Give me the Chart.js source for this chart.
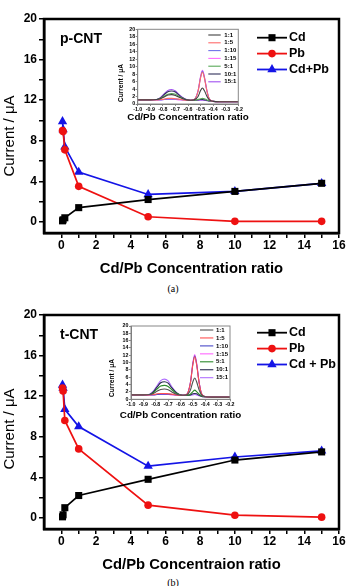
<!DOCTYPE html>
<html><head><meta charset="utf-8">
<script src="https://cdn.jsdelivr.net/npm/chart.js@4.4.1/dist/chart.umd.min.js"></script>
<style>
html,body{margin:0;padding:0;background:#fff;}
body{position:relative;width:348px;height:586px;overflow:hidden;}
canvas{position:absolute;display:block;}
.cap{position:absolute;left:0;width:346px;text-align:center;font-family:'Liberation Serif','Times New Roman',serif;font-size:10px;line-height:12px;color:#000;}
</style></head>
<body>
<canvas id="mainA" width="348" height="280" style="left:0;top:0;width:348px;height:280px"></canvas>
<canvas id="insetA" width="144" height="100" style="left:112px;top:24px;width:144px;height:100px"></canvas>
<div class="cap" style="top:283px">(a)</div>
<canvas id="mainB" width="348" height="280" style="left:0;top:296px;width:348px;height:280px"></canvas>
<canvas id="insetB" width="144" height="103" style="left:104px;top:319px;width:144px;height:103px"></canvas>
<div class="cap" style="top:577px">(b)</div>
<script>
// ---------- data (main charts) ----------
const ratios = [0.067, 0.1, 0.2, 1, 5, 10, 15];
const seriesLabelsA = ['Cd', 'Pb', 'Cd+Pb'];
const seriesLabelsB = ['Cd', 'Pb', 'Cd + Pb'];
const cdA   = [0.1, 0.2, 0.4, 1.4, 2.2, 3.0, 3.8];
const pbA   = [9.0, 8.9, 7.1, 3.5, 0.5, 0.05, 0.05];
const cdpbA = [9.9, 9.1, 7.4, 4.9, 2.7, 3.0, 3.8];
const cdB   = [0.1, 0.3, 1.0, 2.2, 3.8, 5.7, 6.5];
const pbB   = [12.8, 12.5, 9.6, 6.8, 1.25, 0.26, 0.07];
const cdpbB = [13.1, 12.8, 10.7, 9.0, 5.1, 6.0, 6.6];
const xMajorTicks = [0, 2, 4, 6, 8, 10, 12, 14, 16];
const xMinorTicks = [1, 3, 5, 7, 9, 11, 13, 15];
const yMajorTicks = [0, 4, 8, 12, 16, 20];
const yMinorTicks = [2, 6, 10, 14, 18];

// ---------- data (insets) ----------
const insetPotential = [-1.0, -0.9, -0.85, -0.82, -0.79, -0.76, -0.73, -0.70, -0.67, -0.64, -0.61, -0.58, -0.55, -0.52, -0.50, -0.485, -0.47, -0.45, -0.43, -0.40, -0.35, -0.3, -0.25, -0.2];
const insetRatioLabels = ['1:1', '1:5', '1:10', '1:15', '5:1', '10:1', '15:1'];
const insetXTicks = [-1.0, -0.9, -0.8, -0.7, -0.6, -0.5, -0.4, -0.3, -0.2];
const insetYTicks = [0, 2, 4, 6, 8, 10, 12, 14, 16, 18, 20];

const insetA_1_1  = [1.1,1.1,1.2,1.4,1.9,2.4,2.5,2.3,1.8,1.4,1.1,1.0,1.1,2.0,3.6,4.3,3.6,2.1,1.1,0.7,0.6,0.6,0.6,0.6];
const insetA_1_5  = [1.1,1.1,1.1,1.2,1.3,1.5,1.5,1.4,1.3,1.1,1.0,1.0,1.2,3.4,7.0,8.5,7.0,3.5,1.3,0.7,0.6,0.6,0.6,0.6];
const insetA_1_10 = [1.1,1.1,1.1,1.1,1.2,1.3,1.3,1.3,1.2,1.1,1.0,1.0,1.2,3.5,7.2,8.8,7.2,3.6,1.3,0.7,0.6,0.6,0.6,0.6];
const insetA_1_15 = [1.1,1.1,1.1,1.1,1.2,1.2,1.2,1.2,1.1,1.1,1.0,1.0,1.2,3.6,7.4,9.0,7.4,3.7,1.3,0.7,0.6,0.6,0.6,0.6];
const insetA_5_1  = [1.1,1.1,1.2,1.5,2.1,2.6,2.8,2.6,2.0,1.5,1.1,1.0,1.0,1.2,1.4,1.5,1.4,1.1,0.9,0.7,0.6,0.6,0.6,0.6];
const insetA_10_1 = [1.1,1.1,1.2,1.6,2.5,3.3,3.5,3.2,2.3,1.6,1.1,1.0,1.0,1.1,1.2,1.2,1.1,1.0,0.8,0.7,0.6,0.6,0.6,0.6];
const insetA_15_1 = [1.1,1.1,1.2,1.7,2.7,3.6,3.9,3.5,2.5,1.7,1.2,1.0,1.0,1.0,1.0,1.0,1.0,0.9,0.8,0.7,0.6,0.6,0.6,0.6];

const insetB_1_1  = [1.2,1.2,1.3,1.6,2.2,2.7,2.8,2.6,2.0,1.5,1.2,1.1,1.2,2.5,4.8,5.8,4.8,2.6,1.2,0.7,0.6,0.6,0.6,0.6];
const insetB_1_5  = [1.2,1.2,1.2,1.3,1.5,1.6,1.6,1.5,1.4,1.2,1.1,1.1,1.3,4.4,9.5,11.6,9.5,4.6,1.5,0.7,0.6,0.6,0.6,0.6];
const insetB_1_10 = [1.2,1.2,1.2,1.2,1.3,1.4,1.4,1.4,1.3,1.2,1.1,1.1,1.3,4.5,9.7,11.9,9.7,4.7,1.5,0.7,0.6,0.6,0.6,0.6];
const insetB_1_15 = [1.2,1.2,1.2,1.2,1.3,1.3,1.3,1.3,1.2,1.2,1.1,1.1,1.3,4.6,10.0,12.2,10.0,4.8,1.5,0.7,0.6,0.6,0.6,0.6];
const insetB_5_1  = [1.2,1.2,1.3,1.8,2.8,3.6,3.8,3.5,2.6,1.8,1.3,1.1,1.1,1.4,2.1,2.5,2.1,1.4,0.9,0.7,0.6,0.6,0.6,0.6];
const insetB_10_1 = [1.2,1.2,1.3,2.0,3.3,4.5,4.8,4.4,3.1,2.0,1.3,1.1,1.1,1.2,1.5,1.6,1.5,1.1,0.8,0.7,0.6,0.6,0.6,0.6];
const insetB_15_1 = [1.2,1.2,1.4,2.2,3.7,5.1,5.5,5.0,3.4,2.1,1.3,1.1,1.1,1.1,1.2,1.3,1.2,1.0,0.8,0.7,0.6,0.6,0.6,0.6];

// ---------- styles ----------
const FONT = "'Liberation Sans', Arial, Helvetica, sans-serif";
const mainStyles = [
  {color: '#000000', pointStyle: 'rect', r: 5},
  {color: '#ee1111', pointStyle: 'circle', r: 3.8},
  {color: '#1414e6', pointStyle: 'triangle', r: 5.4}
];
const insetColorsA = ['#404040', '#ff6a6a', '#7070e8', '#ff6cff', '#58a858', '#30305a', '#a050f0'];
const insetColorsB = ['#505050', '#ff5050', '#4848c8', '#ff66ff', '#2c8a2c', '#282850', '#b070ff'];

function drawMarker(ctx, style, x, y, r, color) {
  ctx.save();
  ctx.fillStyle = color;
  ctx.beginPath();
  if (style === 'rect') {
    const s = r * Math.SQRT1_2;
    ctx.rect(x - s, y - s, 2 * s, 2 * s);
  } else if (style === 'triangle') {
    let a = 0;
    ctx.moveTo(x + Math.sin(a) * r, y - Math.cos(a) * r);
    a += 2 * Math.PI / 3;
    ctx.lineTo(x + Math.sin(a) * r, y - Math.cos(a) * r);
    a += 2 * Math.PI / 3;
    ctx.lineTo(x + Math.sin(a) * r, y - Math.cos(a) * r);
    ctx.closePath();
  } else {
    ctx.arc(x, y, r, 0, Math.PI * 2);
  }
  ctx.fill();
  ctx.restore();
}

function framePlugin(color, width) {
  return {
    id: 'frame',
    afterDatasetsDraw(chart) {
      const {ctx, chartArea: a} = chart;
      ctx.save();
      ctx.strokeStyle = color;
      ctx.lineWidth = width;
      ctx.strokeRect(a.left, a.top, a.right - a.left, a.bottom - a.top);
      ctx.restore();
    }
  };
}

function decorPlugin(cfg) {
  return {
    id: 'decor',
    afterDraw(chart) {
      const ctx = chart.ctx;
      const area = chart.chartArea;
      ctx.save();
      const L = cfg.legend;
      if (L) {
        chart.data.datasets.forEach((ds, i) => {
          const y = L.y + i * L.dy;
          ctx.strokeStyle = ds.borderColor;
          ctx.lineWidth = L.lineWidth;
          ctx.beginPath();
          ctx.moveTo(L.x1, y);
          ctx.lineTo(L.x2, y);
          ctx.stroke();
          if (L.markers) drawMarker(ctx, ds.pointStyle, (L.x1 + L.x2) / 2, y, ds.pointRadius, ds.borderColor);
          ctx.fillStyle = '#000';
          ctx.font = L.font;
          ctx.textAlign = 'left';
          ctx.textBaseline = 'middle';
          ctx.fillText(ds.label, L.tx, y);
        });
      }
      (cfg.texts || []).forEach(t => {
        ctx.save();
        const x = t.x === 'center' ? (area.left + area.right) / 2 : t.x;
        ctx.translate(x, t.y);
        if (t.rot) ctx.rotate(t.rot);
        ctx.font = t.font;
        ctx.fillStyle = '#000';
        ctx.textAlign = t.align || 'center';
        ctx.textBaseline = 'middle';
        ctx.fillText(t.text, 0, 0);
        ctx.restore();
      });
      ctx.restore();
    }
  };
}

function mainChart(id, series, labels, xTitle, tag, yTitleY, legendY) {
  return new Chart(document.getElementById(id), {
    type: 'line',
    data: {
      datasets: series.map((vals, i) => ({
        label: labels[i],
        data: ratios.map((x, j) => ({x: x, y: vals[j]})),
        borderColor: mainStyles[i].color,
        backgroundColor: mainStyles[i].color,
        pointBackgroundColor: mainStyles[i].color,
        pointBorderWidth: 0,
        pointStyle: mainStyles[i].pointStyle,
        pointRadius: mainStyles[i].r,
        borderWidth: 1.7,
        tension: 0,
        fill: false
      }))
    },
    options: {
      responsive: false, animation: false, devicePixelRatio: 1,
      layout: {padding: {top: 19, right: 9, left: 0, bottom: 0}},
      plugins: {legend: {display: false}, tooltip: {enabled: false}},
      scales: {
        x: {
          type: 'linear', min: -1, max: 16,
          afterBuildTicks: s => { s.ticks = [...xMajorTicks, ...xMinorTicks].sort((a, b) => a - b).map(v => ({value: v})); },
          afterFit: s => { s.height = 47; },
          ticks: {callback: v => xMajorTicks.includes(v) ? String(v) : '', font: {family: FONT, size: 12, weight: 'bold'}, color: '#000', padding: 0, maxRotation: 0, autoSkip: false},
          grid: {drawOnChartArea: false, drawTicks: true, tickLength: 5, color: '#000', lineWidth: 1.5},
          border: {color: '#000', width: 2.5},
          title: {display: true, text: xTitle, font: {family: FONT, size: 14.8, weight: 'bold'}, color: '#000', padding: {top: 0, bottom: 2.5}}
        },
        y: {
          type: 'linear', min: -1.1, max: 20,
          afterBuildTicks: s => { s.ticks = [...yMajorTicks, ...yMinorTicks].sort((a, b) => a - b).map(v => ({value: v})); },
          afterFit: s => { s.width = 44; },
          ticks: {callback: v => yMajorTicks.includes(v) ? String(v) : '', font: {family: FONT, size: 12, weight: 'bold'}, color: '#000', padding: 2, autoSkip: false},
          grid: {drawOnChartArea: false, drawTicks: true, tickLength: 5, color: '#000', lineWidth: 1.5},
          border: {color: '#000', width: 2.5},
          title: {display: false}
        }
      }
    },
    plugins: [framePlugin('#000', 2.5), decorPlugin({
      legend: {x1: 257, x2: 287, tx: 289, y: legendY, dy: 15.9, lineWidth: 1.8, markers: true, font: 'bold 12.5px ' + FONT},
      texts: [
        {text: tag, x: 60, y: 39, font: 'bold 14px ' + FONT, align: 'left'},
        {text: 'Current / \u03bcA', x: 9.5, y: yTitleY, rot: -Math.PI / 2, font: '15px ' + FONT}
      ]
    })]
  });
}

function insetChart(id, curves, colors, cfg) {
  return new Chart(document.getElementById(id), {
    type: 'line',
    data: {
      datasets: curves.map((vals, i) => ({
        label: insetRatioLabels[i],
        data: insetPotential.map((x, j) => ({x: x, y: vals[j]})),
        borderColor: colors[i],
        borderWidth: 1.1,
        pointRadius: 0,
        cubicInterpolationMode: 'monotone',
        fill: false
      }))
    },
    options: {
      responsive: false, animation: false, devicePixelRatio: 1,
      layout: {padding: {top: cfg.padTop, right: cfg.padRight, left: 0, bottom: 0}},
      plugins: {legend: {display: false}, tooltip: {enabled: false}},
      scales: {
        x: {
          type: 'linear', min: -1, max: -0.2,
          afterBuildTicks: s => { s.ticks = insetXTicks.map(v => ({value: v})); },
          afterFit: s => { s.height = cfg.xH; },
          ticks: {callback: v => v.toFixed(1), font: {family: FONT, size: 5.3, weight: 'bold'}, color: '#000', padding: 0, maxRotation: 0, autoSkip: false},
          grid: {drawOnChartArea: false, drawTicks: true, tickLength: 2, color: '#666', lineWidth: 0.8},
          border: {color: '#777', width: 1},
          title: {display: false}
        },
        y: {
          type: 'linear', min: 0, max: 20,
          afterBuildTicks: s => { s.ticks = insetYTicks.map(v => ({value: v})); },
          afterFit: s => { s.width = cfg.yW; },
          ticks: {callback: v => String(v), font: {family: FONT, size: 5.3, weight: 'bold'}, color: '#000', padding: 0.5, autoSkip: false},
          grid: {drawOnChartArea: false, drawTicks: true, tickLength: 2, color: '#666', lineWidth: 0.8},
          border: {color: '#777', width: 1},
          title: {display: false}
        }
      }
    },
    plugins: [framePlugin('#888', 1), decorPlugin({
      legend: {x1: cfg.lx1, x2: cfg.lx2, tx: cfg.ltx, y: 11, dy: cfg.ldy, lineWidth: 1.1, markers: false, font: 'bold 6px ' + FONT},
      texts: [
        {text: 'Current / \u03bcA', x: cfg.ytx, y: cfg.yty, rot: -Math.PI / 2, font: 'bold 6.6px ' + FONT},
        {text: 'Cd/Pb Concentration ratio', x: 'center', y: cfg.xty, font: 'bold 9.8px ' + FONT}
      ]
    })]
  });
}

mainChart('mainA', [cdA, pbA, cdpbA], seriesLabelsA, 'Cd/Pb Concentration ratio', 'p-CNT', 136, 37.7);
mainChart('mainB', [cdB, pbB, cdpbB], seriesLabelsB, 'Cd/Pb Concentraion ratio', 't-CNT', 133, 36.7);

insetChart('insetA', [insetA_1_1, insetA_1_5, insetA_1_10, insetA_1_15, insetA_5_1, insetA_10_1, insetA_15_1], insetColorsA,
  {padTop: 5.3, padRight: 17.7, xH: 20, yW: 25.7, lx1: 96.3, lx2: 108.7, ltx: 112.3, ldy: 7.8, ytx: 9, yty: 59, xty: 93.7});
insetChart('insetB', [insetB_1_1, insetB_1_5, insetB_1_10, insetB_1_15, insetB_5_1, insetB_10_1, insetB_15_1], insetColorsB,
  {padTop: 7, padRight: 18, xH: 22.7, yW: 27, lx1: 96, lx2: 109.3, ltx: 112, ldy: 7.95, ytx: 8.5, yty: 59, xty: 96.3});
</script>
</body></html>
